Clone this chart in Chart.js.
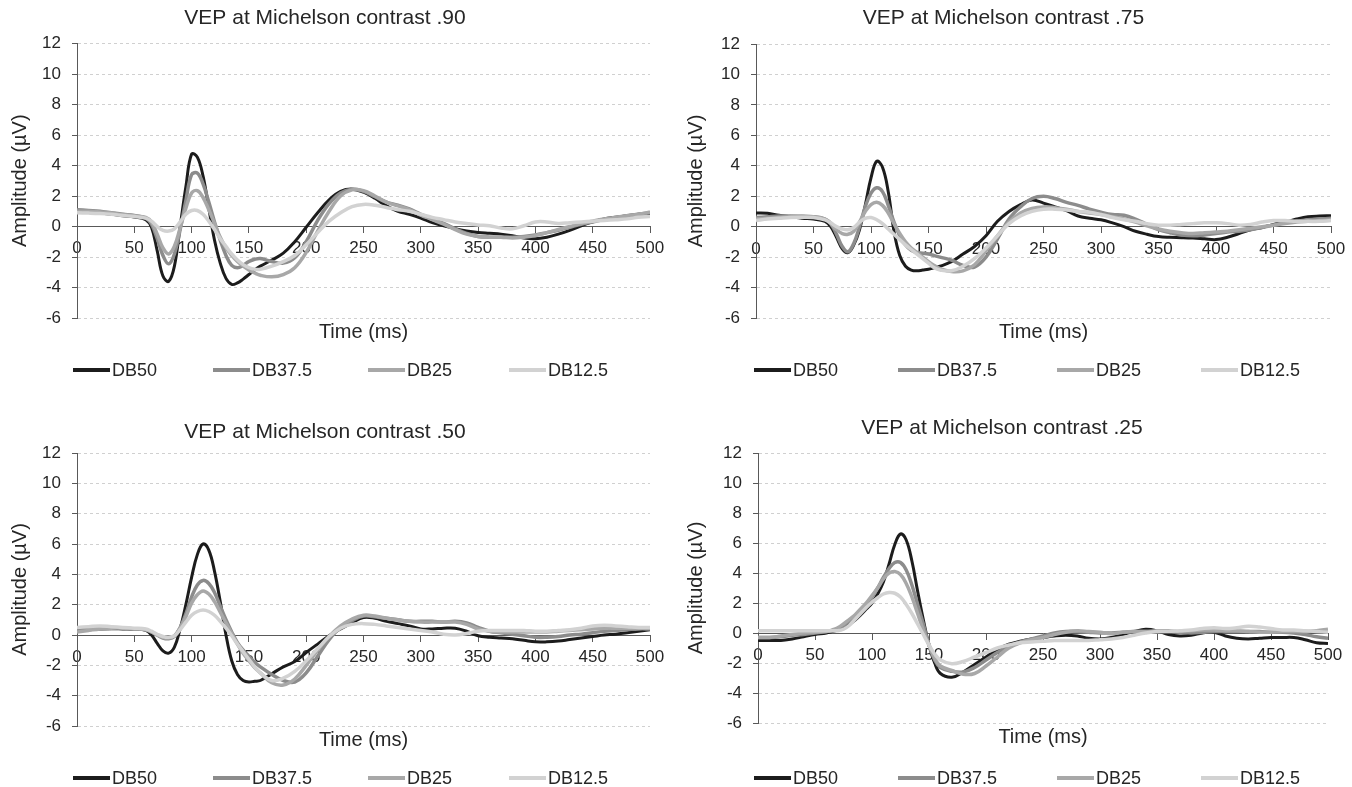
<!DOCTYPE html>
<html>
<head>
<meta charset="utf-8">
<script src="https://cdn.jsdelivr.net/npm/chart.js@4.4.1/dist/chart.umd.min.js"></script>
<style>
  html, body { margin: 0; padding: 0; background: #ffffff; }
  #wrap { position: relative; width: 1352px; height: 787px; overflow: hidden; }
  .panel { position: absolute; }
  canvas { display: block; }
</style>
</head>
<body>
<div id="wrap">
  <div class="panel" style="left:0;top:0;"><canvas id="c90" width="676" height="393"></canvas></div>
  <div class="panel" style="left:676px;top:0;"><canvas id="c75" width="676" height="393"></canvas></div>
  <div class="panel" style="left:0;top:393px;"><canvas id="c50" width="676" height="394"></canvas></div>
  <div class="panel" style="left:676px;top:393px;"><canvas id="c25" width="676" height="394"></canvas></div>
</div>
<script>
// ---------- DATA ----------
const TIME = [0,10,20,30,40,50,60,
  65,70,75,80,85,90,95,100,105,110,115,120,125,130,135,140,145,150,155,
  160,170,180,190,200,210,220,230,240,250,260,270,280,290,300,310,320,330,340,350,360,370,380,390,400,410,420,430,440,450,460,470,480,490,500];

const SERIES_LABELS = ['DB50', 'DB37.5', 'DB25', 'DB12.5'];
const PANEL_TITLES = ['VEP at Michelson contrast .90', 'VEP at Michelson contrast .75', 'VEP at Michelson contrast .50', 'VEP at Michelson contrast .25'];
const X_TITLE = 'Time (ms)';
const Y_TITLE = 'Amplitude (µV)';
const Y_MIN = -6, Y_MAX = 12, Y_STEP = 2;
const X_MIN = 0, X_MAX = 500, X_STEP = 50;

// contrast .90
const C90_DB50 = [0.95,0.92,0.88,0.8,0.7,0.62,0.45,
  -0.05,-1.6,-3.25,-3.6,-2.6,0.0,2.6,4.75,4.55,3.3,1.2,-0.9,-2.4,-3.4,-3.8,-3.7,-3.45,-3.15,-2.85,
  -2.6,-2.2,-1.75,-1.0,-0.05,0.9,1.75,2.3,2.45,2.25,1.85,1.35,1.0,0.8,0.55,0.25,0.05,-0.15,-0.3,-0.4,-0.45,-0.5,-0.6,-0.75,-0.8,-0.7,-0.5,-0.25,0.05,0.3,0.5,0.6,0.7,0.8,0.85];
const C90_DB375 = [1.1,1.05,1.0,0.9,0.8,0.72,0.55,
  0.15,-0.8,-1.9,-2.45,-1.8,-0.2,1.7,3.4,3.5,2.8,1.6,0.3,-0.9,-1.9,-2.55,-2.7,-2.55,-2.3,-2.15,
  -2.1,-2.3,-2.4,-2.05,-1.0,0.4,1.5,2.2,2.45,2.3,1.95,1.6,1.4,1.15,0.8,0.5,0.2,-0.15,-0.45,-0.65,-0.7,-0.7,-0.7,-0.65,-0.55,-0.4,-0.25,-0.05,0.15,0.3,0.45,0.55,0.7,0.8,0.9];
const C90_DB25 = [1.0,1.0,0.95,0.88,0.78,0.7,0.6,
  0.3,-0.5,-1.4,-1.8,-1.3,-0.1,1.2,2.2,2.35,1.9,1.1,0.2,-0.7,-1.4,-1.9,-2.3,-2.6,-2.85,-3.05,
  -3.2,-3.3,-3.15,-2.7,-1.7,-0.3,1.0,2.0,2.4,2.35,2.0,1.6,1.35,1.1,0.75,0.45,0.15,-0.2,-0.5,-0.65,-0.7,-0.7,-0.75,-0.7,-0.6,-0.4,-0.2,0.0,0.2,0.35,0.5,0.6,0.7,0.8,0.95];
const C90_DB125 = [0.9,0.88,0.85,0.8,0.72,0.65,0.55,
  0.35,0.0,-0.25,-0.3,-0.15,0.3,0.8,1.05,1.05,0.8,0.35,-0.2,-0.8,-1.3,-1.8,-2.2,-2.5,-2.7,-2.8,
  -2.8,-2.6,-2.3,-1.9,-1.2,-0.4,0.35,0.9,1.3,1.45,1.4,1.25,1.1,1.0,0.8,0.6,0.45,0.3,0.2,0.1,0.05,-0.1,-0.15,0.05,0.3,0.3,0.2,0.25,0.3,0.35,0.4,0.45,0.5,0.6,0.65];

// contrast .75
const C75_DB50 = [0.9,0.88,0.75,0.65,0.55,0.5,0.35,
  0.0,-0.7,-1.45,-1.7,-1.2,-0.2,1.4,3.2,4.3,3.9,2.3,-0.3,-1.9,-2.6,-2.85,-2.9,-2.85,-2.8,-2.7,
  -2.6,-2.3,-1.8,-1.3,-0.6,0.35,1.0,1.45,1.75,1.55,1.3,1.05,0.7,0.55,0.45,0.25,0.0,-0.3,-0.5,-0.65,-0.7,-0.72,-0.75,-0.8,-0.85,-0.7,-0.45,-0.2,-0.05,0.15,0.3,0.5,0.65,0.7,0.72];
const C75_DB375 = [0.6,0.65,0.7,0.7,0.68,0.65,0.5,
  0.2,-0.5,-1.3,-1.65,-1.1,0.0,1.3,2.2,2.55,2.3,1.4,0.3,-0.6,-1.2,-1.55,-1.7,-1.75,-1.8,-1.9,
  -2.0,-2.2,-2.55,-2.65,-2.0,-0.8,0.5,1.3,1.85,2.0,1.85,1.6,1.4,1.15,0.95,0.8,0.75,0.5,0.15,-0.2,-0.4,-0.55,-0.6,-0.55,-0.45,-0.35,-0.3,-0.2,-0.05,0.1,0.25,0.35,0.45,0.5,0.55];
const C75_DB25 = [0.5,0.55,0.6,0.65,0.68,0.65,0.5,
  0.2,-0.2,-0.45,-0.5,-0.3,0.3,1.0,1.45,1.6,1.4,0.9,0.2,-0.45,-1.0,-1.4,-1.7,-2.0,-2.3,-2.55,
  -2.75,-2.95,-2.9,-2.5,-1.6,-0.6,0.3,0.9,1.2,1.3,1.25,1.15,1.0,0.9,0.8,0.65,0.5,0.3,0.05,-0.15,-0.3,-0.4,-0.45,-0.4,-0.35,-0.3,-0.2,-0.1,0.0,0.1,0.2,0.3,0.35,0.4,0.45];
const C75_DB125 = [0.4,0.5,0.55,0.6,0.62,0.6,0.45,
  0.25,0.0,-0.15,-0.2,-0.05,0.3,0.55,0.6,0.45,0.2,-0.15,-0.5,-0.85,-1.2,-1.5,-1.8,-2.1,-2.4,-2.7,
  -2.85,-2.9,-2.6,-2.1,-1.4,-0.6,0.2,0.7,1.0,1.15,1.15,1.1,1.0,0.95,0.8,0.6,0.45,0.35,0.2,0.1,0.1,0.15,0.2,0.25,0.25,0.2,0.1,0.15,0.3,0.4,0.4,0.35,0.35,0.35,0.4];

// contrast .50
const C50_DB50 = [0.3,0.35,0.4,0.42,0.4,0.38,0.3,
  0.0,-0.55,-1.05,-1.2,-0.8,0.4,2.0,3.8,5.3,6.0,5.6,4.2,2.2,0.0,-1.7,-2.6,-3.0,-3.1,-3.05,
  -3.0,-2.55,-2.1,-1.75,-1.15,-0.6,-0.05,0.4,0.8,1.15,1.1,0.9,0.75,0.6,0.4,0.4,0.45,0.45,0.25,-0.05,-0.15,-0.2,-0.25,-0.35,-0.45,-0.45,-0.4,-0.3,-0.2,-0.1,0.0,0.05,0.15,0.25,0.35];
const C50_DB375 = [0.4,0.45,0.5,0.5,0.45,0.4,0.35,
  0.2,0.0,-0.2,-0.25,-0.1,0.5,1.4,2.5,3.3,3.6,3.4,2.8,1.9,1.0,0.2,-0.5,-1.0,-1.4,-1.8,
  -2.1,-2.6,-3.0,-3.1,-2.5,-1.4,-0.3,0.5,0.95,1.25,1.2,1.1,1.0,0.9,0.9,0.9,0.85,0.9,0.8,0.5,0.25,0.15,0.05,-0.05,-0.15,-0.15,-0.1,0.0,0.05,0.15,0.25,0.3,0.35,0.4,0.4];
const C50_DB25 = [0.2,0.3,0.4,0.45,0.45,0.4,0.35,
  0.2,0.0,-0.15,-0.2,-0.05,0.45,1.2,2.1,2.65,2.9,2.7,2.2,1.5,0.8,0.1,-0.6,-1.2,-1.7,-2.15,
  -2.5,-3.15,-3.3,-2.9,-2.0,-1.0,-0.1,0.6,1.05,1.3,1.25,1.1,1.0,0.9,0.85,0.85,0.85,0.85,0.7,0.4,0.25,0.2,0.2,0.2,0.2,0.2,0.25,0.3,0.35,0.4,0.45,0.45,0.45,0.45,0.45];
const C50_DB125 = [0.5,0.55,0.6,0.55,0.5,0.45,0.4,
  0.25,0.05,-0.1,-0.15,-0.05,0.35,0.85,1.3,1.55,1.65,1.55,1.3,0.9,0.45,-0.05,-0.6,-1.1,-1.6,-2.1,
  -2.5,-3.0,-2.85,-2.4,-1.7,-0.9,-0.1,0.45,0.7,0.75,0.7,0.6,0.5,0.4,0.3,0.2,0.05,0.0,0.1,0.25,0.3,0.3,0.3,0.3,0.25,0.25,0.3,0.35,0.45,0.6,0.65,0.6,0.55,0.5,0.5];

// contrast .25
const C25_DB50 = [-0.5,-0.5,-0.5,-0.4,-0.25,-0.1,0.0,
  0.1,0.2,0.4,0.6,0.85,1.2,1.6,2.0,2.6,3.4,4.6,5.9,6.6,6.2,4.8,2.8,0.9,-0.8,-2.0,
  -2.7,-2.95,-2.6,-2.1,-1.6,-1.1,-0.75,-0.55,-0.4,-0.3,-0.2,-0.15,-0.2,-0.35,-0.4,-0.3,-0.1,0.1,0.25,0.15,-0.1,-0.2,-0.15,0.0,0.05,-0.2,-0.35,-0.4,-0.35,-0.3,-0.3,-0.3,-0.45,-0.65,-0.7];
const C25_DB375 = [-0.3,-0.3,-0.25,-0.15,-0.1,0.0,0.1,
  0.15,0.3,0.5,0.8,1.1,1.45,1.9,2.4,3.0,3.7,4.3,4.7,4.7,4.2,3.2,1.9,0.6,-0.8,-1.8,
  -2.3,-2.55,-2.6,-2.3,-1.8,-1.3,-0.9,-0.6,-0.4,-0.2,0.0,0.1,0.1,0.05,0.0,0.0,0.05,0.1,0.1,0.1,0.1,0.05,0.0,0.05,0.1,0.1,0.1,0.1,0.1,0.05,0.05,0.0,-0.1,-0.25,-0.35];
const C25_DB25 = [-0.3,-0.3,-0.2,-0.1,0.0,0.05,0.1,
  0.2,0.35,0.6,0.9,1.2,1.6,2.0,2.5,3.0,3.6,4.0,4.1,3.9,3.3,2.4,1.3,0.2,-0.8,-1.7,
  -2.2,-2.5,-2.75,-2.7,-2.2,-1.6,-1.0,-0.65,-0.45,-0.3,-0.1,0.05,0.15,0.1,0.05,-0.05,0.05,0.1,0.1,0.15,0.15,0.1,0.15,0.2,0.2,0.15,0.15,0.1,0.05,0.05,0.1,0.1,0.1,0.15,0.25];
const C25_DB125 = [0.15,0.15,0.15,0.15,0.15,0.15,0.15,
  0.15,0.15,0.25,0.5,0.9,1.3,1.7,2.05,2.35,2.6,2.7,2.65,2.4,1.9,1.3,0.6,-0.1,-0.8,-1.4,
  -1.8,-2.05,-1.9,-1.6,-1.3,-1.0,-0.8,-0.65,-0.6,-0.55,-0.5,-0.5,-0.5,-0.5,-0.45,-0.4,-0.3,-0.15,0.0,0.1,0.1,0.15,0.2,0.3,0.35,0.3,0.35,0.45,0.4,0.3,0.2,0.2,0.15,0.1,0.05];

// ---------- STYLE ----------
const FONT = "'Liberation Sans', Arial, Helvetica, sans-serif";
const TXT = '#262626';
const AXIS = '#595959';
const GRID = '#d0d0d0';
const SERIES_COLORS = ['#1c1c1c', '#8c8c8c', '#a8a8a8', '#d2d2d2'];
const SERIES_WIDTHS = [3, 3.5, 3.5, 3.5];

Chart.defaults.font.family = FONT;
Chart.defaults.color = TXT;

const lineLegend = {
  id: 'lineLegend',
  afterDraw(chart, args, opts) {
    const ctx = chart.ctx;
    ctx.save();
    ctx.font = opts.fontSize + 'px ' + FONT;
    ctx.textBaseline = 'middle';
    ctx.textAlign = 'left';
    chart.data.datasets.forEach((ds, i) => {
      const x = opts.xs[i];
      ctx.strokeStyle = ds.borderColor;
      ctx.lineWidth = 4;
      ctx.lineCap = 'butt';
      ctx.beginPath();
      ctx.moveTo(x, opts.y);
      ctx.lineTo(x + opts.lineLen, opts.y);
      ctx.stroke();
      ctx.fillStyle = TXT;
      ctx.fillText(ds.label, x + opts.lineLen + 2, opts.y + 1);
    });
    ctx.restore();
  }
};

function makeChart(id, title, values, lay) {
  const datasets = values.map((vals, i) => ({
    label: SERIES_LABELS[i],
    data: TIME.map((t, k) => ({ x: t, y: vals[k] })),
    borderColor: SERIES_COLORS[i],
    backgroundColor: SERIES_COLORS[i],
    borderWidth: SERIES_WIDTHS[i],
    pointRadius: 0,
    tension: 0.4,
    xAxisID: 'x',
    yAxisID: 'y',
    order: 3 - i
  }));
  return new Chart(document.getElementById(id), {
    type: 'line',
    data: { datasets },
    plugins: [lineLegend],
    options: {
      responsive: false,
      animation: false,
      devicePixelRatio: 1,
      layout: { padding: { left: 0, right: lay.padRight, top: 0, bottom: lay.padBottom } },
      plugins: {
        legend: { display: false },
        tooltip: { enabled: false },
        title: {
          display: true, text: title, color: TXT,
          font: { size: 21, weight: 'normal' },
          padding: { top: lay.titleTop, bottom: lay.titleBottom }
        },
        lineLegend: { xs: lay.legendXs, y: lay.legendY, lineLen: 37, fontSize: 18 }
      },
      scales: {
        x: {
          type: 'linear', min: X_MIN, max: X_MAX, position: { y: 0 },
          ticks: { stepSize: X_STEP, color: TXT, font: { size: 17 }, padding: 6, maxRotation: 0, autoSkip: false },
          grid: { drawOnChartArea: false, tickLength: 6, color: AXIS },
          border: { color: AXIS, width: 1 }
        },
        xt: {
          type: 'linear', min: X_MIN, max: X_MAX, position: 'bottom',
          ticks: { display: false },
          grid: { display: false, drawTicks: false },
          border: { display: false },
          title: { display: true, text: X_TITLE, color: TXT, font: { size: 20 }, padding: { top: 2, bottom: 0 } }
        },
        y: {
          type: 'linear', min: Y_MIN, max: Y_MAX, position: 'left',
          ticks: { stepSize: Y_STEP, color: TXT, font: { size: 17 }, padding: 11 },
          grid: { color: GRID, lineWidth: 1, tickColor: AXIS, tickLength: 5, tickBorderDash: [] },
          border: { color: AXIS, width: 1, dash: [3, 3] },
          title: { display: true, text: Y_TITLE, color: TXT, font: { size: 20 }, padding: { top: 8, bottom: 0 } },
          afterFit: (s) => { s.width = lay.left; }
        }
      }
    }
  });
}

makeChart('c90', PANEL_TITLES[0], [C90_DB50, C90_DB375, C90_DB25, C90_DB125],
  { left: 77, padRight: 26, padBottom: 49, titleTop: 6, titleBottom: 12.3, legendY: 370, legendXs: [73, 213, 368, 509] });
makeChart('c75', PANEL_TITLES[1], [C75_DB50, C75_DB375, C75_DB25, C75_DB125],
  { left: 80, padRight: 21, padBottom: 49, titleTop: 6, titleBottom: 12.8, legendY: 370, legendXs: [78, 222, 381, 525] });
makeChart('c50', PANEL_TITLES[2], [C50_DB50, C50_DB375, C50_DB25, C50_DB125],
  { left: 77, padRight: 26, padBottom: 35, titleTop: 26.4, titleBottom: 8.4, legendY: 385, legendXs: [73, 213, 368, 509] });
makeChart('c25', PANEL_TITLES[3], [C25_DB50, C25_DB375, C25_DB25, C25_DB125],
  { left: 82, padRight: 24, padBottom: 38, titleTop: 22.4, titleBottom: 12.4, legendY: 385, legendXs: [78, 222, 381, 525] });
</script>
</body>
</html>
